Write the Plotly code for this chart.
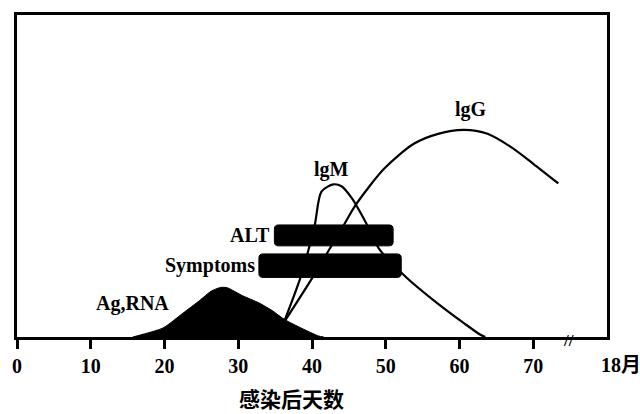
import plotly.graph_objects as go

# Days after infection (x) and relative level (y, 0-100 of the plot height)
ag_days = [15.7, 16.7, 19.8, 22.5, 24.8, 26.3, 27.6, 28.5, 30.6, 32.8, 34.6, 36.3, 38.6, 40.9, 41.6]
ag_level = [0, 0.6, 2.8, 7.4, 11.4, 14.2, 15.4, 15.3, 12.8, 10.6, 8.2, 5.4, 2.7, 0.3, 0]

igm_days = [36.2, 38.4, 39.6, 40.4, 41.3, 42.9, 44.0, 45.4, 47.4, 49.1, 52.8, 56.5, 60.6, 62.9, 63.5]
igm_level = [4.6, 18.2, 27.7, 35.1, 45.2, 47.4, 46.8, 43.1, 35.1, 27.4, 18.5, 11.4, 4.3, 0.6, 0]

igg_days = [36.3, 40.0, 42.4, 44.4, 45.8, 49.8, 53.8, 57.1, 60.6, 63.8, 66.9, 70.0, 73.4]
igg_level = [4.9, 18.2, 27.4, 35.1, 40.6, 52.3, 60.0, 63.1, 64.3, 63.1, 59.1, 53.8, 47.7]

# Duration bars: label, start day, end day, lower level, upper level
bar_names = ["ALT", "Symptoms"]
bar_start = [34.9, 32.8]
bar_end = [51.0, 52.1]
bar_low = [28.3, 18.5]
bar_high = [34.8, 25.8]

tick_days = [0, 10, 20, 30, 40, 50, 60, 70, 80]
tick_labels = ["0", "10", "20", "30", "40", "50", "60", "70", "18月"]
break_day = 74.8

SERIF = "Liberation Serif, Times New Roman, Noto Sans CJK SC, serif"
CJK = "Noto Sans CJK SC, sans-serif"

fig = go.Figure()

fig.add_trace(go.Scatter(
    x=ag_days, y=ag_level, mode="lines", fill="tozeroy",
    fillcolor="black", line=dict(color="black", width=1, shape="spline", smoothing=0.6),
    hoverinfo="skip", showlegend=False))

for xs, ys in [(igm_days, igm_level), (igg_days, igg_level)]:
    fig.add_trace(go.Scatter(
        x=xs, y=ys, mode="lines",
        line=dict(color="black", width=2.2, shape="spline", smoothing=0.8),
        hoverinfo="skip", showlegend=False))


def rounded_bar(x0, x1, y0, y1, rx=0.55, ry=1.2):
    return (f"M {x0 + rx},{y0} L {x1 - rx},{y0} Q {x1},{y0} {x1},{y0 + ry} "
            f"L {x1},{y1 - ry} Q {x1},{y1} {x1 - rx},{y1} L {x0 + rx},{y1} "
            f"Q {x0},{y1} {x0},{y1 - ry} L {x0},{y0 + ry} Q {x0},{y0} {x0 + rx},{y0} Z")


for name, xs, xe, lo, hi in zip(bar_names, bar_start, bar_end, bar_low, bar_high):
    fig.add_shape(type="path", path=rounded_bar(xs, xe, lo, hi), xref="x", yref="y",
                  fillcolor="black", line=dict(color="black", width=1), layer="above")
    fig.add_annotation(x=xs, y=(lo + hi) / 2, text=name, showarrow=False,
                       xanchor="right", yanchor="middle", xshift=-2,
                       font=dict(family=SERIF, size=20, color="black", weight="bold"))

curve_labels = [("Ag,RNA", 15.6, 10.5), ("lgM", 42.6, 52.0), ("lgG", 61.6, 70.8)]
for text, x, y in curve_labels:
    fig.add_annotation(x=x, y=y, text=text, showarrow=False,
                       xanchor="center", yanchor="middle",
                       font=dict(family=SERIF, size=20, color="black", weight="bold"))

# Month label at the right end of the time axis
fig.add_annotation(x=tick_days[-1], y=0, text=tick_labels[-1], showarrow=False,
                   xanchor="left", yanchor="middle", xshift=-8, yshift=-28,
                   font=dict(family=SERIF, size=20, color="black", weight="bold"))

# Axis break mark
fig.add_annotation(x=break_day, y=0, text="//", showarrow=False,
                   xanchor="center", yanchor="middle", yshift=-3,
                   font=dict(family=SERIF, size=17, color="black", weight="bold"))

# Axis title
fig.add_annotation(xref="paper", yref="paper", x=0.466, y=-0.19, text="感染后天数",
                   showarrow=False, xanchor="center", yanchor="middle",
                   font=dict(family=CJK, size=21, color="black", weight="bold"))

fig.update_xaxes(range=[0, 80], tickvals=tick_days[:-1], ticktext=tick_labels[:-1],
                 ticks="outside", ticklen=9, tickwidth=2.5, tickcolor="black",
                 showline=True, linewidth=3, linecolor="black", mirror=True,
                 showgrid=False, zeroline=False,
                 tickfont=dict(family=SERIF, size=20, color="black", weight="bold"))
fig.update_yaxes(range=[0, 100], showticklabels=False, ticks="",
                 showline=True, linewidth=3, linecolor="black", mirror=True,
                 showgrid=False, zeroline=False)

fig.update_layout(width=640, height=414, margin=dict(l=13, r=33, t=12, b=77),
                  plot_bgcolor="white", paper_bgcolor="white", showlegend=False)

fig.write_html("out.html")
